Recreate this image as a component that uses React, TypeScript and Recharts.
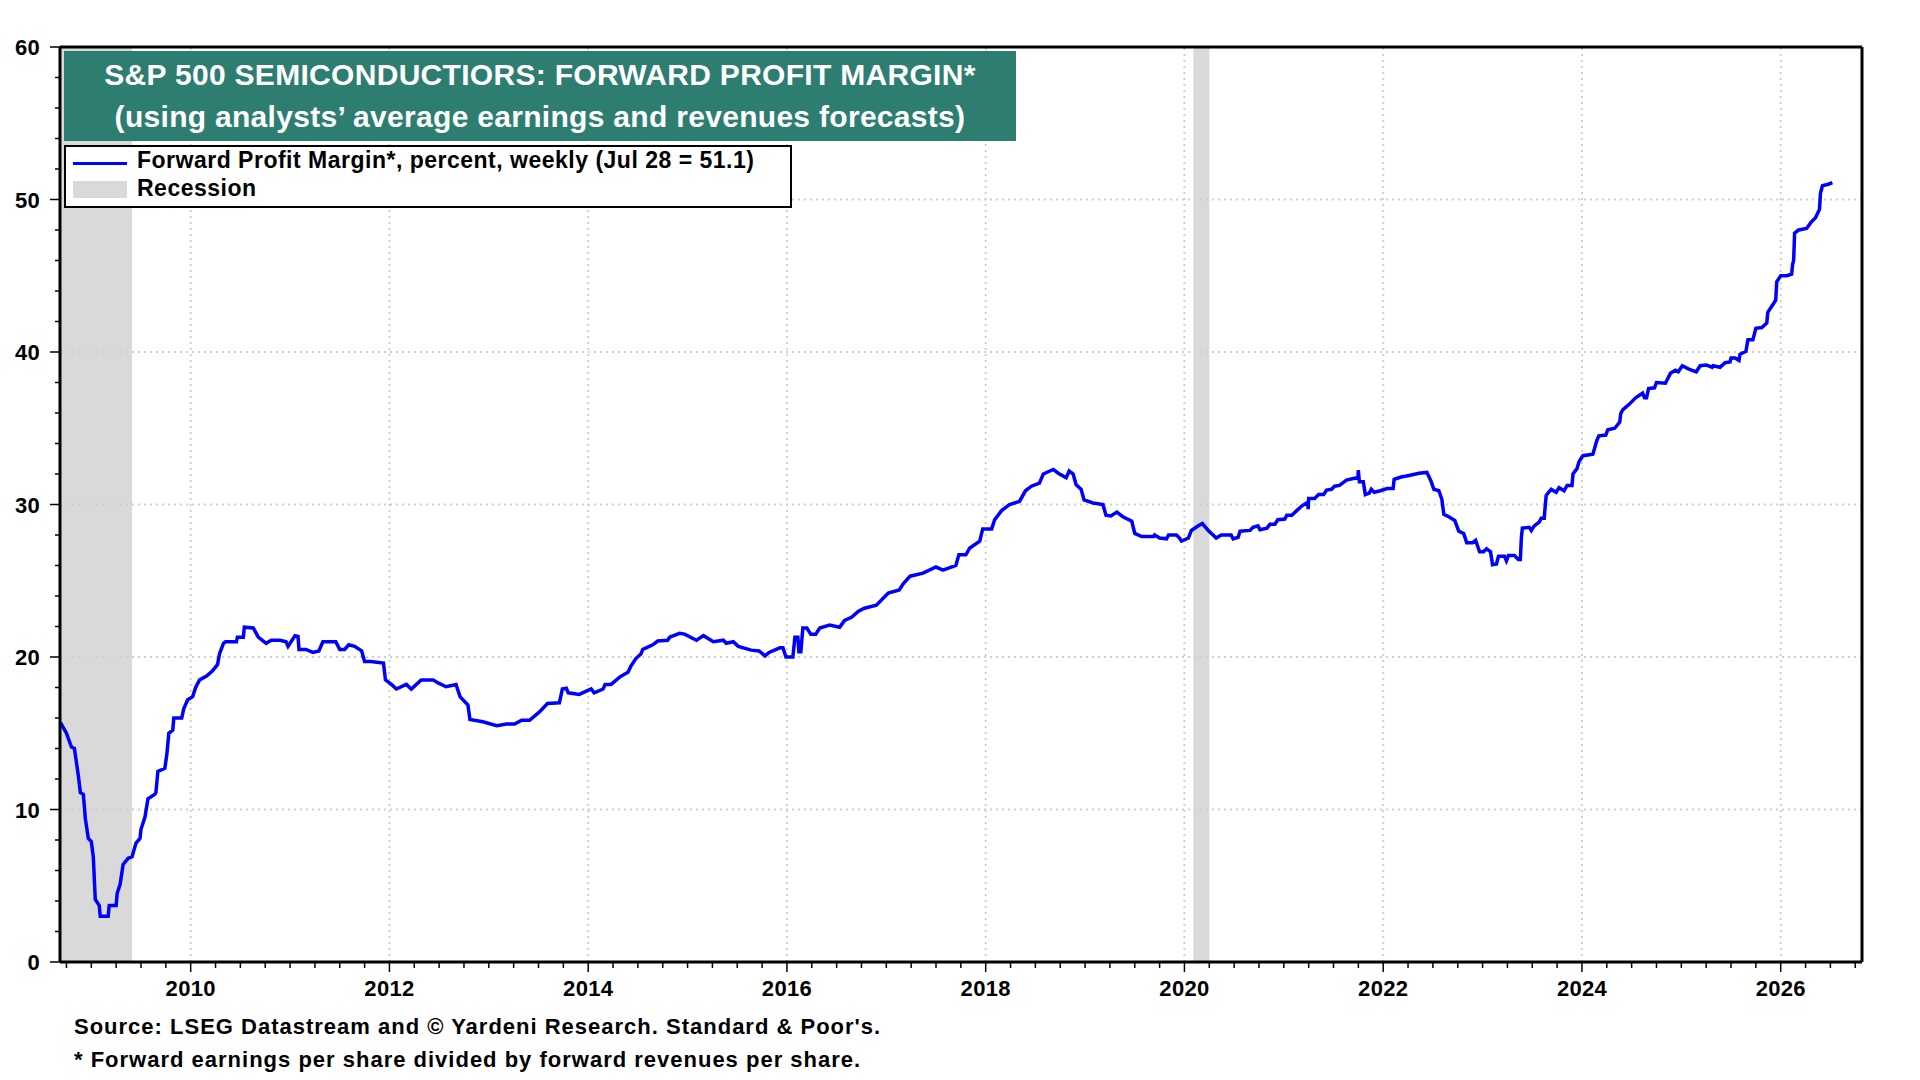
import React from "react"
import { LineChart, Line, XAxis, YAxis, ReferenceLine, ReferenceArea } from "recharts"

type Pt = [number, number]

// forward profit margin, percent, weekly ([year, value])
const margin2008: Pt[] = [
  [2008.69, 15.7], [2008.75, 15.0], [2008.8, 14.1], [2008.83, 14.0], [2008.87, 12.2], [2008.89, 11.1],
  [2008.92, 11.0], [2008.94, 9.4], [2008.97, 8.1], [2009.0, 7.9], [2009.02, 6.9], [2009.04, 4.1],
  [2009.08, 3.7], [2009.09, 3.0], [2009.17, 3.0], [2009.18, 3.7], [2009.25, 3.7], [2009.26, 4.5],
  [2009.29, 5.1], [2009.32, 6.4], [2009.37, 6.8], [2009.41, 6.9], [2009.45, 7.8], [2009.49, 8.1],
  [2009.5, 8.7], [2009.54, 9.5], [2009.57, 10.7], [2009.64, 11.0], [2009.65, 11.1], [2009.67, 12.5],
  [2009.74, 12.7], [2009.76, 13.6], [2009.78, 15.0], [2009.82, 15.2], [2009.83, 16.0], [2009.91, 16.0],
  [2009.93, 16.6], [2009.97, 17.2],
]

const margin2010: Pt[] = [
  [2010.02, 17.4], [2010.05, 18.0], [2010.09, 18.5], [2010.16, 18.75], [2010.22, 19.1], [2010.27, 19.5],
  [2010.29, 20.2], [2010.33, 20.9], [2010.35, 21.0], [2010.46, 21.0], [2010.47, 21.3], [2010.53, 21.3],
  [2010.54, 21.95], [2010.63, 21.9], [2010.68, 21.3], [2010.76, 20.9], [2010.81, 21.1], [2010.9, 21.1],
  [2010.96, 21.0], [2010.98, 20.7], [2011.05, 21.4], [2011.08, 21.35], [2011.09, 20.5], [2011.16, 20.5],
  [2011.23, 20.3], [2011.29, 20.4], [2011.33, 21.0], [2011.46, 21.0], [2011.5, 20.5], [2011.55, 20.5],
  [2011.59, 20.8], [2011.65, 20.7], [2011.72, 20.4], [2011.75, 19.7], [2011.81, 19.7], [2011.94, 19.6],
  [2011.96, 18.5], [2012.02, 18.2], [2012.07, 17.9], [2012.17, 18.2], [2012.22, 17.9], [2012.32, 18.5],
  [2012.44, 18.5], [2012.49, 18.3],
]

const margin2012: Pt[] = [
  [2012.57, 18.05], [2012.67, 18.2], [2012.71, 17.4], [2012.79, 16.85], [2012.81, 15.9], [2012.94, 15.75],
  [2013.08, 15.5], [2013.18, 15.6], [2013.26, 15.6], [2013.33, 15.85], [2013.41, 15.85], [2013.51, 16.4],
  [2013.59, 16.95], [2013.71, 17.0], [2013.74, 17.9], [2013.78, 17.95], [2013.8, 17.65], [2013.91, 17.55],
  [2014.03, 17.9], [2014.06, 17.65], [2014.15, 17.9], [2014.17, 18.2], [2014.23, 18.2], [2014.32, 18.7],
  [2014.4, 19.0], [2014.43, 19.4], [2014.48, 19.9], [2014.53, 20.2], [2014.55, 20.5], [2014.65, 20.8],
  [2014.7, 21.05], [2014.8, 21.1], [2014.82, 21.3], [2014.92, 21.55], [2014.97, 21.5], [2015.09, 21.1],
  [2015.16, 21.4], [2015.26, 21.0], [2015.36, 21.1], [2015.39, 20.9], [2015.46, 21.0], [2015.51, 20.7],
  [2015.64, 20.45], [2015.72, 20.4], [2015.78, 20.07], [2015.82, 20.3], [2015.93, 20.6], [2015.96, 20.6],
  [2015.99, 20.0], [2016.06, 20.0], [2016.08, 21.3], [2016.11, 21.3], [2016.12, 20.35], [2016.14, 20.35],
  [2016.16, 21.9], [2016.2, 21.9], [2016.24, 21.5], [2016.29, 21.5], [2016.33, 21.9], [2016.43, 22.1],
]

const margin2016: Pt[] = [
  [2016.53, 21.95], [2016.58, 22.4], [2016.65, 22.6], [2016.72, 23.0], [2016.78, 23.2], [2016.9, 23.4],
  [2017.02, 24.2], [2017.13, 24.4], [2017.17, 24.8], [2017.24, 25.3], [2017.37, 25.5], [2017.5, 25.9],
  [2017.57, 25.7], [2017.7, 26.0], [2017.73, 26.7], [2017.8, 26.7], [2017.84, 27.15], [2017.94, 27.6],
  [2017.97, 28.4], [2018.06, 28.4], [2018.09, 29.0], [2018.16, 29.6], [2018.24, 30.0], [2018.34, 30.2],
  [2018.4, 30.9], [2018.46, 31.2], [2018.54, 31.4], [2018.58, 32.0], [2018.68, 32.3], [2018.73, 32.05],
  [2018.81, 31.75], [2018.84, 32.2], [2018.88, 32.0], [2018.91, 31.3], [2018.96, 31.0], [2018.99, 30.3],
  [2019.08, 30.1], [2019.18, 30.0], [2019.21, 29.3], [2019.26, 29.25], [2019.32, 29.5], [2019.38, 29.2],
  [2019.47, 28.9], [2019.5, 28.1], [2019.57, 27.9], [2019.69, 27.9], [2019.7, 28.0], [2019.75, 27.8],
  [2019.82, 27.75], [2019.84, 28.0], [2019.92, 28.0], [2019.95, 27.8], [2019.97, 27.6], [2020.04, 27.8],
  [2020.07, 28.3], [2020.14, 28.6],
]

const margin2020: Pt[] = [
  [2020.18, 28.75], [2020.24, 28.3], [2020.32, 27.8], [2020.37, 28.0], [2020.47, 28.0], [2020.49, 27.75],
  [2020.54, 27.85], [2020.56, 28.25], [2020.66, 28.3], [2020.69, 28.5], [2020.74, 28.6], [2020.76, 28.35],
  [2020.83, 28.45], [2020.86, 28.7], [2020.91, 28.7], [2020.94, 29.0], [2021.01, 29.05], [2021.03, 29.3],
  [2021.08, 29.3], [2021.13, 29.6], [2021.18, 29.9], [2021.24, 30.15], [2021.245, 29.7], [2021.25, 30.4],
  [2021.31, 30.4], [2021.35, 30.65], [2021.4, 30.65], [2021.43, 30.95], [2021.48, 31.0], [2021.51, 31.2],
  [2021.56, 31.25], [2021.63, 31.6], [2021.7, 31.7], [2021.745, 31.75], [2021.75, 32.25], [2021.76, 31.5],
  [2021.8, 31.5], [2021.82, 30.65], [2021.86, 30.75], [2021.88, 31.0], [2021.91, 30.8], [2021.97, 30.9],
  [2022.04, 31.05], [2022.1, 31.05], [2022.11, 31.65], [2022.18, 31.8], [2022.26, 31.9], [2022.36, 32.05],
  [2022.44, 32.1], [2022.48, 31.55], [2022.51, 31.0], [2022.56, 30.9], [2022.59, 30.35], [2022.61, 29.35],
  [2022.66, 29.2], [2022.72, 28.95], [2022.76, 28.25], [2022.81, 28.1], [2022.84, 27.5], [2022.9, 27.5],
  [2022.93, 27.65], [2022.97, 26.9], [2023.01, 26.9], [2023.04, 27.1], [2023.08, 26.9], [2023.1, 26.05],
  [2023.14, 26.1], [2023.16, 26.6], [2023.22, 26.6], [2023.24, 26.3], [2023.26, 26.65], [2023.32, 26.65],
  [2023.36, 26.4], [2023.38, 26.4], [2023.39, 27.8], [2023.4, 28.45], [2023.47, 28.5], [2023.49, 28.3],
  [2023.52, 28.6], [2023.57, 28.85], [2023.59, 29.1],
]

const margin2023: Pt[] = [
  [2023.62, 29.1], [2023.64, 30.6], [2023.69, 31.0], [2023.74, 30.8], [2023.77, 31.1], [2023.82, 30.9],
  [2023.85, 31.25], [2023.9, 31.25], [2023.91, 32.0], [2023.95, 32.35], [2023.97, 32.8], [2024.01, 33.2],
  [2024.11, 33.3], [2024.15, 34.2], [2024.17, 34.5], [2024.24, 34.55], [2024.26, 34.9], [2024.33, 35.0],
  [2024.38, 35.4], [2024.39, 35.95], [2024.41, 36.2], [2024.48, 36.6], [2024.54, 37.0], [2024.61, 37.3],
  [2024.63, 37.0], [2024.65, 37.0], [2024.67, 37.6], [2024.73, 37.65], [2024.75, 38.0], [2024.84, 37.95],
  [2024.89, 38.6], [2024.94, 38.8], [2024.97, 38.7], [2025.01, 39.1], [2025.07, 38.9], [2025.15, 38.7],
  [2025.19, 39.1], [2025.25, 39.15], [2025.31, 39.0], [2025.32, 39.1], [2025.39, 39.0], [2025.44, 39.3],
  [2025.49, 39.35], [2025.5, 39.6], [2025.54, 39.6], [2025.58, 39.45], [2025.59, 39.85], [2025.65, 40.05],
  [2025.67, 40.8], [2025.72, 40.8], [2025.75, 41.55], [2025.81, 41.6], [2025.86, 41.9], [2025.87, 42.6],
  [2025.91, 43.0], [2025.95, 43.4], [2025.96, 44.6], [2026.0, 45.0], [2026.06, 45.0], [2026.11, 45.1],
  [2026.12, 45.75], [2026.13, 46.0], [2026.14, 47.8], [2026.18, 48.0], [2026.26, 48.1], [2026.31, 48.55],
  [2026.35, 48.8], [2026.39, 49.35], [2026.4, 50.4], [2026.42, 50.9], [2026.48, 51.0], [2026.52, 51.1],
]

const recessions: Pt[] = [
  [2008.685, 2009.41],
  [2020.09, 2020.25],
]

const yearLabels = [2010, 2012, 2014, 2016, 2018, 2020, 2022, 2024, 2026]
const valueLabels = [0, 10, 20, 30, 40, 50, 60]
const gridValues = [10, 20, 30, 40, 50]

const X_MIN = 2008.685
const X_MAX = 2026.818

const FONT = '"Liberation Sans", Arial, Helvetica, sans-serif'

const data = [...margin2008, ...margin2010, ...margin2012, ...margin2016, ...margin2020, ...margin2023].map(
  ([t, v]) => ({ t, v })
)

// quarterly minor ticks on x, every 2 points on y
const quarterTicks: number[] = []
for (let q = Math.ceil(X_MIN * 4); q <= Math.floor(X_MAX * 4); q++) quarterTicks.push(q / 4)
const yTicks: number[] = []
for (let v = 0; v <= 60; v += 2) yTicks.push(v)

function XTick(props: any) {
  const { x, y, payload } = props
  const val = payload.value as number
  const major = yearLabels.includes(val)
  return (
    <g>
      <line x1={x} x2={x} y1={y} y2={y + (major ? 10 : 6)} stroke="#000" strokeWidth={1.5} />
      {major && (
        <text
          x={x}
          y={y + 34}
          textAnchor="middle"
          fontFamily={FONT}
          fontWeight="bold"
          fontSize={22}
          letterSpacing={0.3}
          fill="#000"
        >
          {val}
        </text>
      )}
    </g>
  )
}

function YTick(props: any) {
  const { x, y, payload, side } = props
  const val = payload.value as number
  const major = valueLabels.includes(val)
  const dir = side === "left" ? -1 : 1
  const len = major ? 10 : 5
  return (
    <g>
      <line x1={x} x2={x + dir * len} y1={y} y2={y} stroke="#000" strokeWidth={1.5} />
      {major && (
        <text
          x={side === "left" ? x - 20 : x + 18}
          y={y + 8}
          textAnchor={side === "left" ? "end" : "start"}
          fontFamily={FONT}
          fontWeight="bold"
          fontSize={22}
          letterSpacing={0.3}
          fill="#000"
        >
          {val}
        </text>
      )}
    </g>
  )
}

export default function App() {
  return (
    <div style={{ position: "absolute", left: 0, top: 0, width: 1920, height: 1080, background: "#fff", fontFamily: FONT }}>
      <LineChart width={1920} height={1080} data={data} margin={{ top: 47, right: 8, bottom: 88, left: 10 }}>
        {recessions.map(([a, b]) => (
          <ReferenceArea key={a} x1={a} x2={b} yAxisId="left" y1={0} y2={60} fill="#d9d9d9" fillOpacity={1} stroke="none" />
        ))}
        {yearLabels.map((yr) => (
          <ReferenceLine key={"gx" + yr} x={yr} yAxisId="left" stroke="#cfcfcf" strokeWidth={2} strokeDasharray="2 4" />
        ))}
        {gridValues.map((v) => (
          <ReferenceLine key={"gy" + v} y={v} yAxisId="left" stroke="#cfcfcf" strokeWidth={2} strokeDasharray="2 4" />
        ))}
        <Line
          yAxisId="left"
          dataKey="v"
          type="linear"
          stroke="#0000ff"
          strokeWidth={3.5}
          dot={false}
          isAnimationActive={false}
        />
        <ReferenceLine y={60} yAxisId="left" stroke="#000" strokeWidth={3} />
        <XAxis
          dataKey="t"
          type="number"
          domain={[X_MIN, X_MAX]}
          ticks={quarterTicks}
          interval={0}
          allowDataOverflow
          height={30}
          tickSize={0}
          tickMargin={0}
          tickLine={false}
          axisLine={{ stroke: "#000", strokeWidth: 3 }}
          tick={(p: any) => <XTick {...p} />}
        />
        <YAxis
          yAxisId="left"
          orientation="left"
          domain={[0, 60]}
          ticks={yTicks}
          interval={0}
          width={50}
          tickSize={0}
          tickMargin={0}
          tickLine={false}
          axisLine={{ stroke: "#000", strokeWidth: 3 }}
          tick={(p: any) => <YTick {...p} side="left" />}
        />
        <YAxis
          yAxisId="right"
          orientation="right"
          domain={[0, 60]}
          ticks={yTicks}
          interval={0}
          width={50}
          tickSize={0}
          tickMargin={0}
          tickLine={false}
          axisLine={{ stroke: "#000", strokeWidth: 3 }}
          tick={(p: any) => <YTick {...p} side="right" />}
        />
      </LineChart>

      {/* title banner */}
      <div
        style={{
          position: "absolute",
          left: 64,
          top: 51,
          width: 952,
          height: 90,
          boxSizing: "border-box",
          paddingTop: 3,
          background: "#2e7d71",
          color: "#fff",
          fontWeight: "bold",
          fontSize: 30,
          letterSpacing: 0.3,
          lineHeight: "42px",
          textAlign: "center",
          whiteSpace: "nowrap",
        }}
      >
        <div>S&amp;P 500 SEMICONDUCTIORS: FORWARD PROFIT MARGIN*</div>
        <div>(using analysts’ average earnings and revenues forecasts)</div>
      </div>

      {/* legend */}
      <div
        style={{
          position: "absolute",
          left: 64,
          top: 145,
          width: 728,
          height: 63,
          boxSizing: "border-box",
          border: "2px solid #000",
          background: "#fff",
          fontWeight: "bold",
          fontSize: 23,
          letterSpacing: 0.5,
          lineHeight: "23px",
          color: "#000",
          whiteSpace: "nowrap",
        }}
      >
        <div style={{ position: "absolute", left: 7, top: 15, width: 54, height: 3, background: "#0000ff" }} />
        <div style={{ position: "absolute", left: 7, top: 34, width: 54, height: 17, background: "#d9d9d9" }} />
        <div style={{ position: "absolute", left: 71, top: 2 }}>
          Forward Profit Margin*, percent, weekly (Jul 28 = 51.1)
        </div>
        <div style={{ position: "absolute", left: 71, top: 30 }}>Recession</div>
      </div>

      {/* footnotes */}
      <div
        style={{
          position: "absolute",
          left: 74,
          top: 1016,
          fontWeight: "bold",
          fontSize: 22,
          letterSpacing: 1,
          lineHeight: "22px",
          color: "#000",
          whiteSpace: "nowrap",
        }}
      >
        Source: LSEG Datastream and © Yardeni Research. Standard &amp; Poor's.
      </div>
      <div
        style={{
          position: "absolute",
          left: 74,
          top: 1049,
          fontWeight: "bold",
          fontSize: 22,
          letterSpacing: 1,
          lineHeight: "22px",
          color: "#000",
          whiteSpace: "nowrap",
        }}
      >
        * Forward earnings per share divided by forward revenues per share.
      </div>
    </div>
  )
}
